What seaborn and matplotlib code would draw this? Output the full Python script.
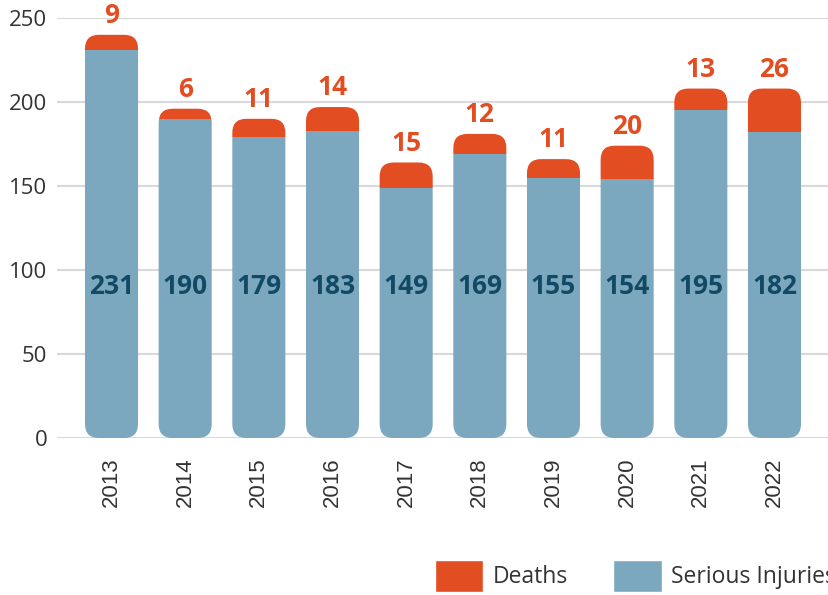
import matplotlib
matplotlib.use("Agg")
import matplotlib.pyplot as plt
import seaborn as sns
from matplotlib.patches import FancyBboxPatch, Patch, Rectangle

years = ["2013", "2014", "2015", "2016", "2017", "2018", "2019", "2020", "2021", "2022"]
serious_injuries = [231, 190, 179, 183, 149, 169, 155, 154, 195, 182]
deaths = [9, 6, 11, 14, 15, 12, 11, 20, 13, 26]
yticks = [0, 50, 100, 150, 200, 250]
series_names = ["Deaths", "Serious Injuries"]

ORANGE = "#E34D22"
BLUE = "#7BA8BE"
NAVY = "#124A66"
TEXT = "#333333"

sns.set_theme(style="white")
plt.rcParams['font.family'] = ['Open Sans', 'DejaVu Sans']

W, H = 829, 595
fig = plt.figure(figsize=(W / 100, H / 100), dpi=100)
ax_left, ax_bottom_px, ax_top_px = 57, 438, 18
ax = fig.add_axes([ax_left / W, (H - ax_bottom_px) / H, 1 - ax_left / W, (ax_bottom_px - ax_top_px) / H])

totals = [a + b for a, b in zip(serious_injuries, deaths)]

sns.barplot(x=years, y=totals, color=ORANGE, width=0.72, ax=ax, saturation=1,
            errorbar=None, linewidth=0, zorder=2)
n_tot = len(ax.patches)
sns.barplot(x=years, y=serious_injuries, color=BLUE, width=0.72, ax=ax, saturation=1,
            errorbar=None, linewidth=0, zorder=3)

xlim = (-0.74, 9.74)
ylim = (0, 250)
ax.set_xlim(*xlim)
ax.set_ylim(*ylim)

ax_w_px = W - ax_left
ax_h_px = ax_bottom_px - ax_top_px
aspect = (ax_w_px / (xlim[1] - xlim[0])) / (ax_h_px / (ylim[1] - ylim[0]))

patches = list(ax.patches)
bars_tot = patches[:n_tot]
bars_inj = patches[n_tot:]
for rt, ri in zip(bars_tot, bars_inj):
    x, w, h = rt.get_x(), rt.get_width(), rt.get_height()
    hi = ri.get_height()
    style = "round,pad=0,rounding_size=0.19"
    top = FancyBboxPatch((x, 0), w, h, boxstyle=style, mutation_aspect=aspect,
                         facecolor=ORANGE, edgecolor='none', linewidth=0, zorder=2,
                         transform=ax.transData)
    bottom = FancyBboxPatch((x, 0), w, h, boxstyle=style, mutation_aspect=aspect,
                            facecolor=BLUE, edgecolor='none', linewidth=0, zorder=3,
                            transform=ax.transData)
    ax.add_patch(top)
    ax.add_patch(bottom)
    clip_top = Rectangle((x - 0.5, hi), w + 1, 1000, transform=ax.transData)
    clip_bot = Rectangle((x - 0.5, -100), w + 1, hi + 100, transform=ax.transData)
    top.set_clip_path(clip_top)
    bottom.set_clip_path(clip_bot)
    rt.remove()
    ri.remove()

for i, (t, d) in enumerate(zip(totals, deaths)):
    ax.text(i, t + 3.5, str(d), ha='center', va='bottom', color=ORANGE,
            fontsize=19, fontweight='bold')
for i, v in enumerate(serious_injuries):
    ax.text(i, 90, str(v), ha='center', va='center', color=NAVY,
            fontsize=19, fontweight='bold', zorder=5)

ax.set_yticks(yticks)
ax.set_yticklabels([str(t) for t in yticks])
ax.tick_params(axis='y', length=0, pad=7, labelsize=16, labelcolor=TEXT)
ax.tick_params(axis='x', length=0, pad=14, labelsize=16, labelcolor=TEXT, labelrotation=90)
for lab in ax.get_xticklabels():
    lab.set_fontfamily(['Liberation Sans', 'DejaVu Sans'])
ax.set_xlabel("")
ax.set_ylabel("")
ax.yaxis.grid(True, color="#d9d9d9", linewidth=1.5)
ax.xaxis.grid(False)
ax.set_axisbelow(True)
for s in ax.spines.values():
    s.set_visible(False)

handles = [Patch(facecolor=ORANGE, label=series_names[0]),
           Patch(facecolor=BLUE, label=series_names[1])]
leg = fig.legend(handles=handles, loc='center left', bbox_to_anchor=(435 / W, 19 / H),
                 ncol=2, frameon=False, fontsize=16.5, handlelength=2.1, handleheight=1.75,
                 handletextpad=0.4, columnspacing=2.0, borderpad=0, borderaxespad=0)
for t in leg.get_texts():
    t.set_color(TEXT)

fig.savefig("out.png", dpi=100)
